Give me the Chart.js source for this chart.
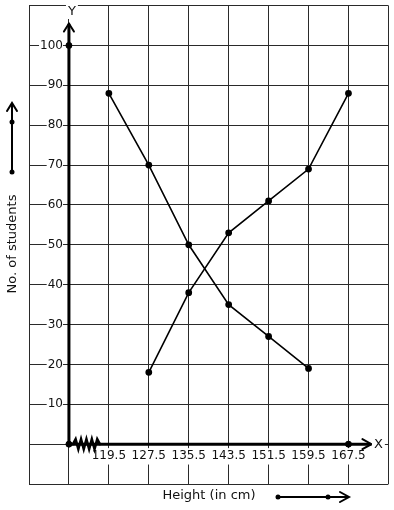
<!DOCTYPE html>
<html>
<head>
<meta charset="utf-8">
<script src="https://cdn.jsdelivr.net/npm/chart.js@4"></script>
<style>
  body { margin: 0; background: #fff; }
  #wrap { width: 394px; height: 510px; }
</style>
</head>
<body>
<div id="wrap"><canvas id="ogive" width="394" height="510"></canvas></div>
<script>
// heights (class limits) shown on the x axis
const heights = [119.5, 127.5, 135.5, 143.5, 151.5, 159.5, 167.5];
// less than ogive (upper limits 127.5 .. 167.5)
const lessThanX = [127.5, 135.5, 143.5, 151.5, 159.5, 167.5];
const lessThanY = [18, 38, 53, 61, 69, 88];
// more than ogive (lower limits 119.5 .. 159.5)
const moreThanX = [119.5, 127.5, 135.5, 143.5, 151.5, 159.5];
const moreThanY = [88, 70, 50, 35, 27, 19];
// marked points on the axes
const axisPtsX = [111.5, 111.5, 167.5];
const axisPtsY = [0, 100, 0];
// grid lines / ticks
const xGrid = [103.5, 111.5, 119.5, 127.5, 135.5, 143.5, 151.5, 159.5, 167.5, 175.5];
const yGrid = [-10, 0, 10, 20, 30, 40, 50, 60, 70, 80, 90, 100, 110];
const yLabels = [10, 20, 30, 40, 50, 60, 70, 80, 90, 100];

const X0 = 111.5; // where the y axis stands

function pts(xs, ys) {
    return xs.map((x, i) => ({ x: x, y: ys[i] }));
}

Chart.defaults.font.family = '"DejaVu Sans", sans-serif';
Chart.defaults.color = '#111';

function chevronUp(ctx, x, y) {
    ctx.beginPath();
    ctx.moveTo(x - 5, y + 8);
    ctx.lineTo(x, y);
    ctx.lineTo(x + 5, y + 8);
    ctx.stroke();
}
function chevronRight(ctx, x, y) {
    ctx.beginPath();
    ctx.moveTo(x - 9, y - 5);
    ctx.lineTo(x, y);
    ctx.lineTo(x - 9, y + 5);
    ctx.stroke();
}
function dot(ctx, x, y) {
    ctx.beginPath();
    ctx.arc(x, y, 2.5, 0, Math.PI * 2);
    ctx.fill();
}
function boxedText(ctx, txt, x, y) {
    const w = ctx.measureText(txt).width;
    ctx.fillStyle = '#fff';
    ctx.fillRect(x - w / 2 - 2, y - 7, w + 4, 14);
    ctx.fillStyle = '#111';
    ctx.fillText(txt, x, y);
}
// positioned axes should not push the plot area in
function noPad(s) {
    s.paddingTop = 0;
    s.paddingBottom = 0;
    s.paddingLeft = 0;
    s.paddingRight = 0;
}

// bold axes, arrows, kink and titles
const decor = {
    id: 'decor',
    beforeDatasetsDraw(chart) {
        const ctx = chart.ctx;
        const xs = chart.scales.x, ys = chart.scales.y;
        const ox = xs.getPixelForValue(X0);
        const oy = ys.getPixelForValue(0);
        const topY = ys.getPixelForValue(105.5);
        const endX = xs.getPixelForValue(172.1);
        ctx.save();
        ctx.strokeStyle = '#000';
        ctx.fillStyle = '#000';
        ctx.lineCap = 'round';
        ctx.lineWidth = 3;
        ctx.beginPath();
        ctx.moveTo(ox, oy);
        ctx.lineTo(ox, topY + 1);
        ctx.moveTo(ox, oy);
        ctx.lineTo(endX - 1, oy);
        ctx.stroke();
        ctx.lineWidth = 2;
        chevronUp(ctx, ox, topY);
        chevronRight(ctx, endX, oy);

        // kink on the x axis
        ctx.lineWidth = 2.5;
        ctx.beginPath();
        const k0 = ox + 4, k1 = ox + 31;
        const n = 10;
        ctx.moveTo(k0, oy);
        for (let i = 1; i <= n; i++) {
            const px = k0 + (k1 - k0) * i / n;
            const py = i === n ? oy : oy + (i % 2 ? -5 : 5);
            ctx.lineTo(px, py);
        }
        ctx.stroke();

        // axis letters
        ctx.font = '13px "DejaVu Sans"';
        ctx.textAlign = 'center';
        ctx.textBaseline = 'middle';
        boxedText(ctx, 'Y', ox + 3, 12);
        boxedText(ctx, 'X', endX + 7, oy);

        // titles
        ctx.fillStyle = '#111';
        ctx.fillText('Height (in cm)', 209, 496);
        ctx.save();
        ctx.translate(13, 244);
        ctx.rotate(-Math.PI / 2);
        ctx.fillText('No. of students', 0, 0);
        ctx.restore();

        // direction arrows beside the titles
        ctx.strokeStyle = '#000';
        ctx.fillStyle = '#000';
        ctx.lineWidth = 2;
        ctx.beginPath();
        ctx.moveTo(12, 172);
        ctx.lineTo(12, 104);
        ctx.stroke();
        chevronUp(ctx, 12, 103);
        dot(ctx, 12, 122);
        dot(ctx, 12, 172);
        ctx.beginPath();
        ctx.moveTo(278, 497);
        ctx.lineTo(348, 497);
        ctx.stroke();
        chevronRight(ctx, 349, 497);
        dot(ctx, 278, 497);
        dot(ctx, 328, 497);
        ctx.restore();
    }
};

new Chart(document.getElementById('ogive'), {
    type: 'line',
    data: {
        datasets: [{
            label: 'Less than',
            data: pts(lessThanX, lessThanY),
            borderColor: '#000',
            backgroundColor: '#000',
            borderWidth: 1.6,
            pointRadius: 2.6,
            pointBackgroundColor: '#000',
            tension: 0
        }, {
            label: 'More than',
            data: pts(moreThanX, moreThanY),
            borderColor: '#000',
            backgroundColor: '#000',
            borderWidth: 1.6,
            pointRadius: 2.6,
            pointBackgroundColor: '#000',
            tension: 0
        }, {
            label: 'Axis points',
            data: pts(axisPtsX, axisPtsY),
            showLine: false,
            pointRadius: 3,
            pointBackgroundColor: '#000',
            borderColor: '#000'
        }]
    },
    options: {
        responsive: false,
        animation: false,
        layout: { padding: { left: 29, right: 5, top: 4, bottom: 26 } },
        plugins: { legend: { display: false }, tooltip: { enabled: false } },
        scales: {
            x: {
                type: 'linear',
                position: { y: 0 },
                min: xGrid[0],
                max: xGrid[xGrid.length - 1],
                afterBuildTicks: s => { s.ticks = xGrid.map(v => ({ value: v })); },
                afterFit: noPad,
                grid: { color: '#2a2a2a', lineWidth: 1, drawTicks: false },
                border: { display: false },
                ticks: {
                    autoSkip: false,
                    maxRotation: 0,
                    padding: 5,
                    font: { size: 12 },
                    color: '#111',
                    showLabelBackdrop: true,
                    backdropPadding: 1,
                    backdropColor: c => heights.includes(c.tick.value) ? '#fff' : 'rgba(0,0,0,0)',
                    callback: v => heights.includes(v) ? String(v) : ''
                }
            },
            y: {
                type: 'linear',
                position: { x: X0 },
                min: yGrid[0],
                max: yGrid[yGrid.length - 1],
                afterBuildTicks: s => { s.ticks = yGrid.map(v => ({ value: v })); },
                afterFit: noPad,
                grid: { color: '#2a2a2a', lineWidth: 1, drawTicks: false },
                border: { display: false },
                ticks: {
                    autoSkip: false,
                    font: { size: 12 },
                    color: '#111',
                    showLabelBackdrop: true,
                    backdropPadding: { top: 1, bottom: 1, left: 1, right: -6 },
                    backdropColor: c => yLabels.includes(c.tick.value) ? '#fff' : 'rgba(0,0,0,0)',
                    // en space keeps a small gap between label and axis
                    callback: v => yLabels.includes(v) ? String(v) + '\u2002' : ''
                }
            }
        }
    },
    plugins: [decor]
});
</script>
</body>
</html>
